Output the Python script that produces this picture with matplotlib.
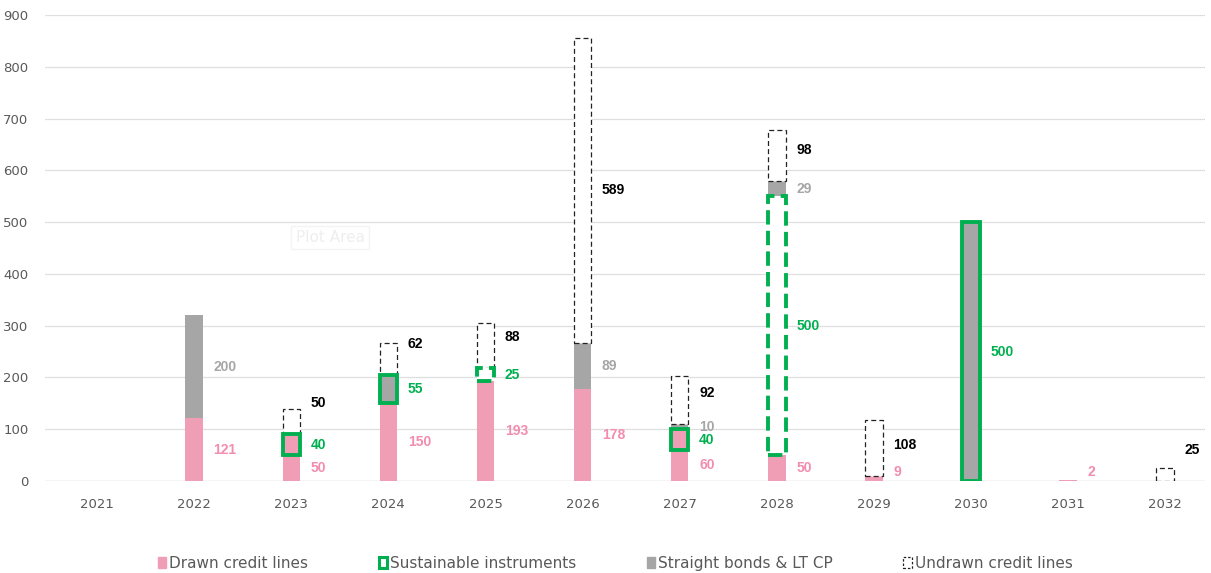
import matplotlib
matplotlib.use("Agg")
import matplotlib.pyplot as plt
from matplotlib.patches import Patch
import numpy as np

years = ["2021", "2022", "2023", "2024", "2025", "2026", "2027", "2028", "2029", "2030", "2031", "2032"]
drawn = [0, 121, 50, 150, 193, 178, 60, 50, 9, 0, 2, 0]
sustainable = [0, 0, 40, 55, 25, 0, 40, 500, 0, 500, 0, 0]
straight = [0, 200, 0, 0, 0, 89, 10, 29, 0, 0, 0, 0]
undrawn = [0, 0, 50, 62, 88, 589, 92, 98, 108, 0, 0, 25]
series_names = ["Drawn credit lines", "Sustainable instruments", "Straight bonds & LT CP", "Undrawn credit lines"]

PINK = "#F09EB6"
PINK_TXT = "#F28DAE"
GRAY = "#A6A6A6"
GREEN = "#00B050"
TICK = "#595959"

# per-year look of the sustainable segment
sust_style = {
    "2023": (PINK, "-"), "2024": (GRAY, "-"), "2025": ("white", "--"),
    "2027": (PINK, "-"), "2028": ("white", "--"), "2030": (GRAY, "-"),
}

fig = plt.figure(figsize=(12.11, 5.73), dpi=100)
ax = fig.add_axes([45/1211, 92/573, 1160/1211, 466/573])

x = np.arange(2021, 2033)
w = 0.18
d = np.array(drawn, float)
s = np.array(sustainable, float)
g = np.array(straight, float)
u = np.array(undrawn, float)

ax.bar(x, d, w, color=PINK, zorder=3)
b1 = d
for i, yr in enumerate(years):
    if s[i] > 0:
        fc, ls = sust_style[yr]
        ax.bar(x[i], s[i], w, bottom=b1[i], facecolor=fc, edgecolor=GREEN,
               linewidth=2.8, linestyle=ls, zorder=4)
b2 = b1 + s
ax.bar(x, g, w, bottom=b2, color=GRAY, zorder=3)
b3 = b2 + g
for i in range(len(x)):
    if u[i] > 0:
        ax.bar(x[i], u[i], w, bottom=b3[i], facecolor="white", edgecolor="#222222",
               linewidth=0.9, linestyle=(0, (4, 2.5)), zorder=3)

off = 0.2
lbl_kw = dict(fontsize=10, fontweight="bold", va="center", ha="left", zorder=6,
              family=["Liberation Sans", "DejaVu Sans"])
for i in range(len(x)):
    if d[i] > 0:
        ax.text(x[i] + off, max(d[i] / 2, 17), f"{int(d[i])}", color=PINK_TXT, **lbl_kw)
    if s[i] > 0:
        ax.text(x[i] + off, b1[i] + s[i] / 2, f"{int(s[i])}", color=GREEN, **lbl_kw)
    if g[i] > 0:
        ax.text(x[i] + off, b2[i] + g[i] / 2, f"{int(g[i])}", color=GRAY, **lbl_kw)
    if u[i] > 0:
        ax.text(x[i] + off, max(b3[i] + u[i] / 2, b3[i] + 60), f"{int(u[i])}", color="black", **lbl_kw)

ax.set_xlim(2020.464, 2032.41)
ax.set_ylim(0, 900)
ax.set_yticks(range(0, 901, 100))
ax.set_xticks(x)
ax.set_xticklabels(years)
ax.tick_params(axis="both", length=0, labelsize=9.5, colors=TICK)
ax.tick_params(axis="y", pad=12)
ax.tick_params(axis="x", pad=12)
for sp in ax.spines.values():
    sp.set_visible(False)
ax.yaxis.grid(True, color="#CCCCCC", linewidth=0.9, linestyle=(0, (1, 0.6)), zorder=0)
ax.axhline(0, color="#CCCCCC", linewidth=0.9, zorder=1)
ax.set_axisbelow(True)

ax.text(2023.4, 470, "Plot Area", color="#EEEEEE", fontsize=11, ha="center", va="center",
        bbox=dict(facecolor="white", edgecolor="#F4F4F4", pad=3), zorder=2)

handles = [
    Patch(facecolor=PINK, edgecolor=PINK),
    Patch(facecolor="white", edgecolor=GREEN, linewidth=2.2),
    Patch(facecolor=GRAY, edgecolor=GRAY),
    Patch(facecolor="white", edgecolor="#222222", linewidth=0.9, linestyle=(0, (2, 1.5))),
]
fig.legend(handles, series_names, loc="center", bbox_to_anchor=(0.508, 0.017), ncol=4,
           frameon=False, fontsize=11, handlelength=0.55, handleheight=0.75,
           handletextpad=0.2, columnspacing=4.6, labelcolor=TICK)

fig.savefig("out.png", dpi=100)
